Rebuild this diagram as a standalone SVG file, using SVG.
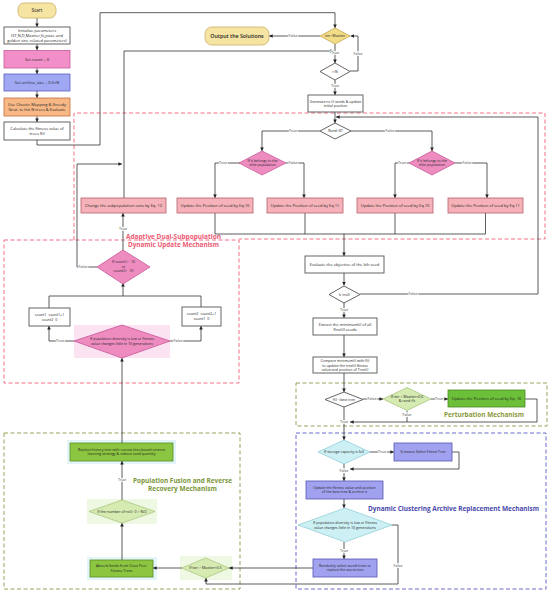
<svg xmlns="http://www.w3.org/2000/svg" width="550" height="594" viewBox="0 0 550 594">
<defs>
<marker id="ah" viewBox="0 0 6 6" refX="6" refY="3" markerWidth="3.6" markerHeight="3.6" markerUnits="userSpaceOnUse" orient="auto"><path d="M0,0 L6,3 L0,6 z" fill="#222"/></marker>
<style>
text{font-family:"Open Sans","Liberation Sans",sans-serif;fill:#222;text-anchor:middle}
.t{font-size:4px}
.s{font-size:3.6px}
.lbl{font-size:3.8px;fill:#444;stroke:#fff;stroke-width:1.6px;paint-order:stroke}
.c{fill:none;stroke:#333;stroke-width:0.8}
.ca{fill:none;stroke:#333;stroke-width:0.8;marker-end:url(#ah)}
.white{fill:#fff;stroke:#555;stroke-width:0.9}
.yel{fill:#f6e4a2;stroke:#c8b068;stroke-width:0.8}
.pinkb{fill:#f6b2b9;stroke:#b4606c;stroke-width:0.8}
.pinkd{fill:#ee8cc0;stroke:#c8589a;stroke-width:0.8}
.grn{fill:#8cc640;stroke:#5b8a24;stroke-width:0.8}
.lgd{fill:#d6ebb2;stroke:#a2c274;stroke-width:0.7}
.cyd{fill:#cdf0f4;stroke:#86c8d2;stroke-width:0.7}
.lav{fill:#a0a2f0;stroke:#5656b2;stroke-width:0.8}
.title{font-weight:bold}
</style>
</defs>

<!-- region frames -->
<g id="regions" fill="none">
<path d="M74,240 V113 H545 V239 H239" stroke="#f0607a" stroke-width="0.9" stroke-dasharray="4,2.5"/>
<rect x="4" y="240" width="235" height="143" stroke="#f0607a" stroke-width="0.9" stroke-dasharray="4,2.5"/>
<rect x="4" y="433" width="236" height="156" stroke="#8a9a4a" stroke-width="0.9" stroke-dasharray="4,2.5"/>
<rect x="296" y="383" width="251" height="43" stroke="#8a9a4a" stroke-width="0.9" stroke-dasharray="4,2.5"/>
<rect x="296" y="433" width="250" height="156" stroke="#5a5ac8" stroke-width="0.9" stroke-dasharray="4,2.5"/>
</g>

<!-- glows -->
<g id="glows">
<rect x="74" y="325" width="96" height="33" fill="#fbe3f1"/>
<rect x="67" y="440" width="109" height="24" fill="#e2f6fa"/>
<rect x="87" y="499" width="70" height="25" fill="#eef8e2"/>
<rect x="87" y="557" width="70" height="23" fill="#e2f6fa"/>
<rect x="180" y="556" width="52" height="24" fill="#eef8e2"/>
</g>

<!-- connectors -->
<g id="connectors">
<path class="ca" d="M37,18 V27"/>
<path class="ca" d="M37,44 V50"/>
<path class="ca" d="M37,68 V74"/>
<path class="ca" d="M37,91 V98"/>
<path class="ca" d="M37,116 V122"/>
<path class="ca" d="M37,140 V145 H100 V12.7 H335 V28"/>
<path class="ca" d="M320,36 H269"/>
<path class="ca" d="M335,44 V63"/>
<path class="ca" d="M124,198 V51 H334"/>
<path class="ca" d="M350,71 H358 V36 H350.5"/>
<path class="ca" d="M335,80 V95"/>
<path class="ca" d="M335,112 V123"/>
<path class="ca" d="M360,294 H538 V117 H336"/>
<path class="ca" d="M320,131 H262 V151"/>
<path class="ca" d="M351,131 H432 V151"/>
<path class="ca" d="M240,163 H215 V198"/>
<path class="ca" d="M286,163 H304 V198"/>
<path class="ca" d="M409,163 H395 V198"/>
<path class="ca" d="M455,163 H487 V198"/>
<path class="c" d="M215,213 V234 H485.5 V213 M305,213 V234 M395,213 V234"/>
<path class="ca" d="M344,234 V256"/>
<path class="ca" d="M344,273 V285.5"/>
<path class="ca" d="M344,303 V318"/>
<path class="ca" d="M344,335 V357"/>
<path class="ca" d="M344,373 V392"/>
<path class="ca" d="M363,399 H383"/>
<path class="ca" d="M431,399 H448"/>
<path class="ca" d="M525,399 H537 V422 H350"/>
<path class="c" d="M407,411 V422"/>
<path class="ca" d="M344,406.5 V440"/>
<path class="ca" d="M370,452 H394"/>
<path class="ca" d="M452,452 H459 V469 H350"/>
<path class="ca" d="M344,464 V481"/>
<path class="ca" d="M344,499 V508"/>
<path class="ca" d="M344,542 V559"/>
<path class="ca" d="M392,525 H398 V584 H206 V578"/>
<path class="ca" d="M313,568 H229"/>
<path class="ca" d="M182,568 H153"/>
<path class="ca" d="M122,560 V523"/>
<path class="ca" d="M122,500 V461"/>
<path class="ca" d="M122,443 V358"/>
<path class="ca" d="M74,341 H49 V326"/>
<path class="ca" d="M170,341 H201 V326"/>
<path class="c" d="M49,308 V296 H201 V307"/>
<path class="ca" d="M123,296 V283"/>
<path class="ca" d="M123,250 V213"/>
<path class="ca" d="M97,267 H77 V164 H122"/>
<text class="lbl" x="293" y="37.3">False</text>
<text class="lbl" x="335" y="54">True</text>
<text class="lbl" x="358" y="55.3">False</text>
<text class="lbl" x="335" y="87.3">True</text>
<text class="lbl" x="293" y="132.3">True</text>
<text class="lbl" x="390" y="132.3">False</text>
<text class="lbl" x="223" y="164.3">True</text>
<text class="lbl" x="293" y="164.3">False</text>
<text class="lbl" x="402" y="164.3">True</text>
<text class="lbl" x="467" y="164.3">False</text>
<text class="lbl" x="413" y="295.3">False</text>
<text class="lbl" x="344" y="310.5">True</text>
<text class="lbl" x="372" y="400.3">False</text>
<text class="lbl" x="439" y="400.3">True</text>
<text class="lbl" x="407" y="416.3">False</text>
<text class="lbl" x="344" y="423.3">True</text>
<text class="lbl" x="382" y="453.3">True</text>
<text class="lbl" x="344" y="472.3">False</text>
<text class="lbl" x="344" y="552.3">True</text>
<text class="lbl" x="398" y="567.3">False</text>
<text class="lbl" x="122" y="481.3">True</text>
<text class="lbl" x="60" y="342.3">True</text>
<text class="lbl" x="178" y="342.3">False</text>
<text class="lbl" x="123" y="230.3">True</text>
<text class="lbl" x="83" y="268.3">False</text>
</g>

<!-- left column -->
<g id="start"><rect class="yel" x="18" y="3" width="38" height="15" rx="6"/><text x="37" y="12.3" style="font-size:5px">Start</text></g>
<g id="init"><rect class="white" x="4" y="27" width="66" height="17"/>
<text class="t" x="37" y="32">Initialize parameters</text>
<text class="t" x="37" y="36.8">(ST,N,D,Maxiter,fs,psize and</text>
<text class="t" x="37" y="41.6">golden sine related parameters)</text></g>
<g id="setcount"><rect x="4" y="50.5" width="66" height="17.5" fill="#f28fc8" stroke="#c25a9c" stroke-width="0.8"/><text class="t" x="37" y="60.6">Set count = 0</text></g>
<g id="setarchive"><rect x="4" y="74" width="66" height="17" fill="#a0a8f4" stroke="#5a60c0" stroke-width="0.8"/><text class="t" x="37" y="84">Set archive_size = 0.5×N</text></g>
<g id="chaotic"><rect x="4" y="98" width="66" height="18" fill="#f7b886" stroke="#c4703c" stroke-width="0.8"/>
<text class="t" x="37" y="105.5">Use Chaotic Mapping &amp; Greedy</text>
<text class="t" x="37" y="110.8">Strat. to Init N trees &amp; Evaluate</text></g>
<g id="calc"><rect class="white" x="4" y="122" width="66" height="18"/>
<text class="t" x="37" y="129.8">Calculate the fitness value of</text>
<text class="t" x="37" y="135">trees f(i)</text></g>

<!-- top decision column -->
<g id="output"><rect class="yel" x="205" y="27" width="64" height="18" rx="7"/><text x="237" y="38" style="font-size:5.3px;font-weight:600">Output the Solutions</text></g>
<g id="iter"><polygon points="320,36 335,28 350,36 335,44" fill="#f3dc88" stroke="#c6a64e" stroke-width="0.8"/><text class="s" x="335" y="37.2">iter&lt;Maxiter</text></g>
<g id="iN"><polygon class="white" points="320,71.5 335,63 350,71.5 335,80"/><text class="s" x="335" y="72.8">i&lt;N</text></g>
<g id="generate"><rect class="white" x="308" y="95" width="55" height="17"/>
<text class="s" x="335.5" y="102.6">Generate ns (i) seeds &amp; update</text>
<text class="s" x="335.5" y="107.2">initial position</text></g>
<g id="rand"><polygon class="white" points="320,131 335,123 351,131 335,139"/><text class="s" x="335.5" y="132.2">Rand&lt;ST</text></g>
<g id="elite1"><polygon class="pinkd" points="239,163 262,151 286,163 262,175"/>
<text class="s" x="262.5" y="162">If it belongs to the</text><text class="s" x="262.5" y="166.3">elite population</text></g>
<g id="elite2"><polygon class="pinkd" points="409,163 432,151 455,163 432,175"/>
<text class="s" x="432" y="162">If it belongs to the</text><text class="s" x="432" y="166.3">elite population</text></g>
<g id="changeratio"><rect class="pinkb" x="81" y="198" width="85" height="15"/><text class="t" x="123.5" y="206.8">Change the subpopulation ratio by Eq. 12</text></g>
<g id="eq10a"><rect class="pinkb" x="177" y="198" width="76" height="15"/><text class="t" x="215" y="206.8">Update the Position of seed by Eq.10</text></g>
<g id="eq11a"><rect class="pinkb" x="267" y="198" width="76" height="15"/><text class="t" x="305" y="206.8">Update the Position of seed by Eq.11</text></g>
<g id="eq10b"><rect class="pinkb" x="357" y="198" width="76" height="15"/><text class="t" x="395" y="206.8">Update the Position of seed by Eq.10</text></g>
<g id="eq11b"><rect class="pinkb" x="448" y="198" width="75" height="15"/><text class="t" x="485.5" y="206.8">Update the Position of seed by Eq.11</text></g>

<!-- dynamic update region -->
<g id="countdiamond"><polygon class="pinkd" points="97,267 123,250 150,267 123,284"/>
<text class="s" x="123.5" y="263">If count1&gt;=10</text><text class="s" x="123.5" y="267.6">or</text><text class="s" x="123.5" y="272.2">count2&gt;=10</text></g>
<g id="count1box"><rect class="white" x="29" y="308" width="41" height="18"/>
<text class="s" x="49.5" y="315.7">count1=count1+1</text><text class="s" x="49.5" y="320.5">count2=0</text></g>
<g id="count2box"><rect class="white" x="182" y="307" width="39" height="19"/>
<text class="s" x="201.5" y="315.2">count2=count2+1</text><text class="s" x="201.5" y="320">count1=0</text></g>
<g id="diversity1"><polygon class="pinkd" points="74,341 122,325 170,341 122,358"/>
<text class="s" x="122" y="340">If population diversity is low or Fitness</text>
<text class="s" x="122" y="344.5">value changes little in 10 generations</text></g>
<text class="title" x="173.5" y="239.3" style="font-size:7px;fill:#ec5a72" textLength="95" lengthAdjust="spacingAndGlyphs">Adaptive Dual-Subpopulation</text>
<text class="title" x="173.5" y="247" style="font-size:7px;fill:#ec5a72" textLength="91" lengthAdjust="spacingAndGlyphs">Dynamic Update Mechanism</text>

<!-- middle column -->
<g id="evaluate"><rect class="white" x="305" y="256" width="79" height="17"/><text class="t" x="344.5" y="265.8">Evaluate the objective of the kth seed</text></g>
<g id="kdiamond"><polygon class="white" points="329,294.5 344,286 360,294.5 344,303"/><text class="s" x="344.5" y="295.8">k&lt;ns(i)</text></g>
<g id="extract"><rect class="white" x="313" y="318" width="64" height="17"/>
<text class="t" x="345" y="325.5">Extract the minimum(i) of all</text><text class="t" x="345" y="330.5">f(ns(i)) seeds</text></g>
<g id="compare"><rect class="white" x="313" y="357" width="64" height="16"/>
<text class="s" x="345" y="362.2">Compare minimum(i) with f(i)</text>
<text class="s" x="345" y="366.5">to update the tree(i) fitness</text>
<text class="s" x="345" y="370.8">value and position of Tree(i)</text></g>
<g id="fbest"><polygon class="white" points="325,399.5 344,392 363,399.5 344,407"/><text class="s" x="344" y="400.8">f(i) &lt;best tree</text></g>

<!-- perturbation -->
<g id="perturb"><polygon class="lgd" points="383,399 407,387.5 431,399 407,410.5"/>
<text class="s" x="407" y="398">If iter &lt; Maxiter×0.6</text><text class="s" x="407" y="402.4">&amp; rand&lt;fs</text></g>
<g id="eq16"><rect x="448" y="390" width="77" height="17" fill="#6cbf38" stroke="#4a8a22" stroke-width="0.8"/><text class="t" x="486.5" y="399.8">Update the Position of seed by Eq. 16</text></g>
<text class="title" x="484" y="416.5" style="font-size:6.5px;fill:#8a9a3a" textLength="80" lengthAdjust="spacingAndGlyphs">Perturbation Mechanism</text>

<!-- archive replacement -->
<g id="storage"><polygon class="cyd" points="318,452 344,440 370,452 344,464"/><text class="s" x="344" y="453.2">If storage capacity is full</text></g>
<g id="kmeans"><rect class="lav" x="394" y="443" width="58" height="18"/><text class="s" x="423" y="453.2">K-means Select Fittest Tree</text></g>
<g id="updatebest"><rect class="lav" x="306" y="481" width="77" height="18"/>
<text class="s" x="344.5" y="488.7">Update the fitness value and position</text>
<text class="s" x="344.5" y="493.3">of the best tree &amp; archive it</text></g>
<g id="diversity2"><polygon class="cyd" points="298,525 345,508 392,525 345,542"/>
<text class="s" x="345" y="524">If population diversity is low or Fitness</text>
<text class="s" x="345" y="528.5">value changes little in 10 generations</text></g>
<g id="randomly"><rect class="lav" x="313" y="559" width="64" height="18"/>
<text class="s" x="345" y="566.6">Randomly select saved trees to</text>
<text class="s" x="345" y="571.2">replace the worst tree</text></g>
<text class="title" x="453.5" y="511.3" style="font-size:6.5px;fill:#4848aa" textLength="171" lengthAdjust="spacingAndGlyphs">Dynamic Clustering Archive Replacement Mechanism</text>

<!-- fusion -->
<g id="replace"><rect class="grn" x="70" y="443" width="103" height="18"/>
<text class="s" x="121.5" y="450.7">Replace history tree with convex-lens-based reverse</text>
<text class="s" x="121.5" y="455.3">learning strategy &amp; reduce seed quantity</text></g>
<g id="numberdiamond"><polygon class="lgd" points="89,511.5 122,500 155,511.5 122,523"/><text class="s" x="122" y="512.8">If the number of ns(i)=0 &gt; N/2</text></g>
<g id="absorb"><rect class="grn" x="90" y="560" width="63" height="17"/>
<text class="s" x="121.5" y="567.3">Absorb Seeds from Close Poor</text>
<text class="s" x="121.5" y="571.9">Fitness Trees</text></g>
<g id="iterlate"><polygon class="lgd" points="182,568 205.5,558 229,568 205.5,578"/><text class="s" x="205.5" y="569.2">If iter &gt; Maxiter×0.5</text></g>
<text class="title" x="182.5" y="483.3" style="font-size:6.5px;fill:#7a9638" textLength="99" lengthAdjust="spacingAndGlyphs">Population Fusion and Reverse</text>
<text class="title" x="182.5" y="491.3" style="font-size:6.5px;fill:#7a9638" textLength="69" lengthAdjust="spacingAndGlyphs">Recovery  Mechanism</text>
</svg>
